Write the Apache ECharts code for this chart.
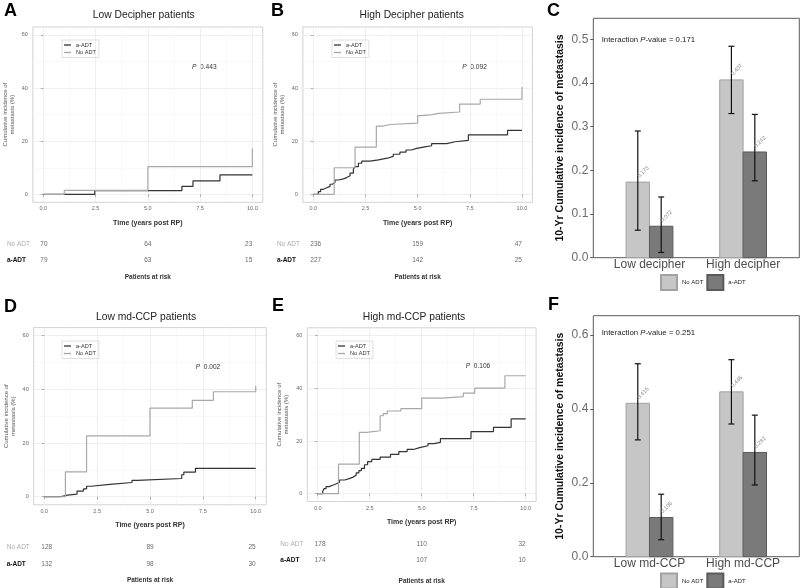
<!DOCTYPE html>
<html>
<head>
<meta charset="utf-8">
<script src="https://cdn.jsdelivr.net/npm/echarts@6/dist/echarts.min.js"></script>
<style>
  html, body { margin: 0; padding: 0; background: #fff; }
  #chart { width: 800px; height: 588px; }
</style>
</head>
<body>
<div id="chart"></div>
<script>
// cumulative incidence curves, [time (years), incidence (%)], value after each step
const lowDecNoAdt = [[0, 0], [1.0, 1.5], [5.0, 10.4], [10, 10.4], [10, 17.3]]
const lowDecAdt = [[0, 0], [2.46, 1.4], [6.63, 3.0], [7.16, 5.1], [8.45, 7.3], [10, 7.3]]
const highDecNoAdt = [[0, 0], [1.0, 10.0], [2.0, 17.8], [3.02, 25.7], [3.3, 26.3], [3.7, 26.8], [5.0, 29.6],
  [5.2, 30.0], [5.7, 30.5], [6.0, 31.0], [7.01, 34.0], [8.0, 35.8], [10, 35.8], [10, 40.4]]
const highDecAdt = [[0, 0], [0.24, 1.0], [0.35, 1.9], [0.48, 2.5], [0.64, 3.0], [0.8, 3.8], [0.91, 4.5],
  [1.04, 5.4], [1.2, 5.8], [1.44, 6.3], [1.6, 7.0], [1.76, 8.0], [1.92, 9.5], [2.0, 10.4], [2.16, 11.7],
  [2.32, 12.5], [2.72, 13.0], [3.12, 13.6], [3.55, 14.3], [3.83, 15.1], [4.15, 15.9], [4.44, 16.7],
  [4.7, 17.3], [4.95, 17.8], [5.27, 18.3], [5.67, 19.1], [6.39, 19.8], [6.8, 20.3], [7.43, 22.4],
  [9.31, 24.1], [10, 24.1]]
const lowCcpNoAdt = [[0, 0], [1.0, 9.3], [2.0, 22.7], [5.0, 33.0], [7.0, 35.9], [8.0, 39.1], [10, 39.1], [10, 41.3]]
const lowCcpAdt = [[0, 0], [0.75, 0.6], [1.1, 1.0], [1.55, 2.1], [1.85, 2.9], [2.0, 3.9], [2.2, 4.6],
  [3.1, 5.3], [4.15, 6.1], [4.4, 6.8], [6.5, 8.2], [6.6, 9.2], [7.15, 10.6], [10, 10.6]]
const highCcpNoAdt = [[0, 0], [1.0, 11.2], [2.0, 23.3], [2.35, 23.9], [3.0, 29.6], [3.15, 30.4], [3.35, 31.4],
  [4.0, 32.3], [5.0, 36.3], [6.0, 36.9], [7.0, 38.2], [7.55, 40.1], [9.0, 44.8], [10, 44.8]]
const highCcpAdt = [[0, 0], [0.24, 0.8], [0.3, 1.9], [0.4, 2.7], [0.55, 3.3], [0.75, 3.8], [0.9, 4.4],
  [1.05, 5.2], [1.3, 5.8], [1.55, 6.3], [1.7, 7.0], [1.85, 7.9], [1.98, 8.8], [2.1, 9.6], [2.25, 11.0],
  [2.4, 12.2], [2.6, 13.0], [3.0, 13.9], [3.5, 14.9], [3.9, 16.0], [4.3, 16.8], [4.6, 17.5], [4.9, 18.2],
  [5.3, 19.0], [5.6, 19.5], [5.9, 20.9], [7.37, 23.6], [8.45, 25.2], [9.3, 28.4], [10, 28.4]]

// patients at risk at 0, 5 and 10 years
const riskTimes = [0, 5, 10]
const riskLowDecNoAdt = [70, 64, 23]
const riskLowDecAdt = [79, 63, 15]
const riskHighDecNoAdt = [236, 159, 47]
const riskHighDecAdt = [227, 142, 25]
const riskLowCcpNoAdt = [128, 89, 25]
const riskLowCcpAdt = [132, 98, 30]
const riskHighCcpNoAdt = [178, 110, 32]
const riskHighCcpAdt = [174, 107, 10]

const kmTicksX = [0, 2.5, 5, 7.5, 10]
const kmMinorX = [1.25, 3.75, 6.25, 8.75]
const kmTicksY = [0, 20, 40, 60]
const kmMinorY = [10, 30, 50]

// 10-year cumulative incidence with confidence limits
const decipherGroups = ['Low decipher', 'High decipher']
const decNoAdt = [0.173, 0.407]
const decNoAdtLow = [0.063, 0.330]
const decNoAdtHigh = [0.290, 0.484]
const decAdt = [0.072, 0.242]
const decAdtLow = [0.012, 0.176]
const decAdtHigh = [0.139, 0.328]

const ccpGroups = ['Low md-CCP', 'High md-CCP']
const ccpNoAdt = [0.415, 0.446]
const ccpNoAdtLow = [0.316, 0.359]
const ccpNoAdtHigh = [0.522, 0.533]
const ccpAdt = [0.106, 0.282]
const ccpAdtLow = [0.046, 0.194]
const ccpAdtHigh = [0.169, 0.383]

const barTicksC = [0, 0.1, 0.2, 0.3, 0.4, 0.5]
const barTicksF = [0, 0.2, 0.4, 0.6]

const FONT = "'Liberation Sans', Arial, Helvetica, sans-serif"
const BLACK_LINE = '#333333'
const GREY_LINE = '#a8a8a8'

const grid = []
const xAxis = []
const yAxis = []
const series = []
const legend = []
const graphic = []

const stripKey = (n) => n.split('|')[1]

const addText = (x, y, text, style) => {
  graphic.push({
    type: 'text', x, y, silent: true,
    style: Object.assign({ text, fontFamily: FONT, fill: '#222', align: 'left', verticalAlign: 'middle' }, style),
  })
}

const kmPanel = (p) => {
  const gi = grid.length
  grid.push({ left: p.box.left, top: p.box.top, width: p.box.width, height: p.box.height,
    show: true, borderColor: '#d2d2d2', borderWidth: 1, backgroundColor: '#fff' })
  const xi = xAxis.length
  xAxis.push({
    type: 'value', gridIndex: gi, min: -0.5, max: 10.5,
    name: 'Time (years post RP)', nameLocation: 'middle', nameGap: p.xGap,
    nameTextStyle: { fontSize: 7, fontWeight: 'bold', color: '#333', fontFamily: FONT },
    axisLine: { show: false },
    axisTick: { show: true, length: 2.5, customValues: kmTicksX, lineStyle: { color: '#999', width: 0.8 } },
    axisLabel: { customValues: kmTicksX, formatter: (v) => v.toFixed(1), fontSize: 5.5, color: '#666', margin: 3.5 },
    splitLine: { show: true, lineStyle: { color: '#ebebeb', width: 0.8 } },
  })
  xAxis.push({
    type: 'value', gridIndex: gi, min: -0.5, max: 10.5, position: 'bottom',
    axisLine: { show: false },
    axisTick: { show: false, customValues: kmMinorX },
    axisLabel: { show: false, customValues: kmMinorX },
    splitLine: { show: true, lineStyle: { color: '#f5f5f5', width: 0.6 } },
  })
  const yi = yAxis.length
  yAxis.push({
    type: 'value', gridIndex: gi, min: -3, max: 63,
    name: 'Cumulative incidence of\nmetastasis (%)', nameLocation: 'middle', nameRotate: 90, nameGap: 17,
    nameTextStyle: { fontSize: 6, color: '#555', lineHeight: 7.2, fontFamily: FONT },
    axisLine: { show: false },
    axisTick: { show: true, length: 2.5, customValues: kmTicksY, lineStyle: { color: '#999', width: 0.8 } },
    axisLabel: { customValues: kmTicksY, fontSize: 5.5, color: '#666', margin: 5 },
    splitLine: { show: true, lineStyle: { color: '#ebebeb', width: 0.8 } },
  })
  yAxis.push({
    type: 'value', gridIndex: gi, min: -3, max: 63, position: 'left',
    axisLine: { show: false },
    axisTick: { show: false, customValues: kmMinorY },
    axisLabel: { show: false, customValues: kmMinorY },
    splitLine: { show: true, lineStyle: { color: '#f5f5f5', width: 0.6 } },
  })
  series.push({
    type: 'line', name: p.key + '|a-ADT', xAxisIndex: xi, yAxisIndex: yi, step: 'end', symbol: 'none',
    data: p.adt, lineStyle: { color: BLACK_LINE, width: 1.2 }, itemStyle: { color: BLACK_LINE }, silent: true,
  })
  series.push({
    type: 'line', name: p.key + '|No ADT', xAxisIndex: xi, yAxisIndex: yi, step: 'end', symbol: 'none',
    data: p.noAdt, lineStyle: { color: GREY_LINE, width: 1.2 }, itemStyle: { color: GREY_LINE }, silent: true,
  })
  legend.push({
    left: p.legendAt[0], top: p.legendAt[1], orient: 'vertical',
    data: [p.key + '|a-ADT', p.key + '|No ADT'], formatter: stripKey, selectedMode: false,
    icon: 'rect', itemWidth: 7, itemHeight: 1.3, itemGap: 1.5, padding: [2, 3, 2, 2],
    borderColor: '#d8d8d8', borderWidth: 0.8,
    textStyle: { fontSize: 5.6, color: '#333', fontFamily: FONT },
  })

  // patients at risk table
  const tg = grid.length
  grid.push({ left: p.box.left, top: p.table.top, width: p.box.width, height: p.table.height })
  const txi = xAxis.length
  xAxis.push({
    type: 'value', gridIndex: tg, min: -0.5, max: 10.5,
    name: 'Patients at risk', nameLocation: 'middle', nameGap: p.riskGap,
    nameTextStyle: { fontSize: 6.5, fontWeight: 'bold', color: '#333', fontFamily: FONT },
    axisLine: { show: false }, axisTick: { show: false }, axisLabel: { show: false }, splitLine: { show: false },
  })
  const tyi = yAxis.length
  yAxis.push({
    type: 'category', gridIndex: tg, data: ['a-ADT', 'No ADT'],
    axisLine: { show: false }, axisTick: { show: false }, splitLine: { show: false },
    axisLabel: {
      align: 'left', margin: p.rowMargin,
      formatter: (v) => (v === 'No ADT' ? '{g|No ADT}' : '{b|a-ADT}'),
      rich: {
        g: { color: '#adadad', fontSize: 6.5, fontFamily: FONT },
        b: { color: '#111', fontSize: 6.5, fontWeight: 'bold', fontFamily: FONT },
      },
    },
  })
  const aligns = ['left', 'center', 'right']
  const rows = []
  riskTimes.forEach((t, i) => {
    rows.push({ value: [t, 1, p.riskNoAdt[i]], label: { align: aligns[i], offset: [i === 0 ? -3 : 0, 0] } })
    rows.push({ value: [t, 0, p.riskAdt[i]], label: { align: aligns[i], offset: [i === 0 ? -3 : 0, 0] } })
  })
  series.push({
    type: 'scatter', xAxisIndex: txi, yAxisIndex: tyi, symbolSize: 1, silent: true,
    itemStyle: { color: 'rgba(0,0,0,0)' },
    label: { show: true, position: 'inside', formatter: (q) => q.value[2], fontSize: 6.5, color: '#444', fontFamily: FONT },
    data: rows,
  })

  addText(p.titleAt[0], p.titleAt[1], p.title, { fontSize: 10.3, align: 'center', fill: '#222' })
  addText(p.letterAt[0], p.letterAt[1], p.letter, { fontSize: 18, fontWeight: 'bold', fill: '#000' })
  addText(p.pAt[0], p.pAt[1], '{i|P}  ' + p.p, {
    fontSize: 6.6, fill: '#333', rich: { i: { fontStyle: 'italic', fontSize: 6.6, fill: '#333', fontFamily: FONT } },
  })
}

const barRender = (shift, fill, stroke) => (params, api) => {
  const x = api.value(0) + shift
  const v = api.value(1)
  const tl = api.coord([x - 0.125, v])
  const br = api.coord([x + 0.125, 0])
  const hi = api.coord([x, api.value(3)])
  const lo = api.coord([x, api.value(2)])
  const err = { stroke: '#111', lineWidth: 1.2 }
  return {
    type: 'group',
    children: [
      { type: 'rect', shape: { x: tl[0], y: tl[1], width: br[0] - tl[0], height: br[1] - tl[1] },
        style: { fill, stroke, lineWidth: 1 } },
      { type: 'line', shape: { x1: hi[0], y1: hi[1], x2: lo[0], y2: lo[1] }, style: err },
      { type: 'line', shape: { x1: hi[0] - 3, y1: hi[1], x2: hi[0] + 3, y2: hi[1] }, style: err },
      { type: 'line', shape: { x1: lo[0] - 3, y1: lo[1], x2: lo[0] + 3, y2: lo[1] }, style: err },
      { type: 'text', x: hi[0] + 2.5, y: tl[1] - 3, rotation: Math.PI / 4,
        style: { text: v.toFixed(3), fontSize: 5.6, fill: '#8a8a8a', align: 'left', verticalAlign: 'bottom', fontFamily: FONT } },
    ],
  }
}

const NO_ADT_FILL = '#c6c6c6'
const NO_ADT_EDGE = '#a2a2a2'
const ADT_FILL = '#7a7a7a'
const ADT_EDGE = '#5a5a5a'

const barPanel = (p) => {
  const gi = grid.length
  grid.push({ left: 593.3, top: p.top, width: 206, height: p.height, show: true, borderColor: '#5a5a5a', borderWidth: 1 })
  const xi = xAxis.length
  xAxis.push({
    type: 'value', gridIndex: gi, min: 0.4, max: 2.6,
    axisLine: { show: false },
    axisTick: { show: false, customValues: [1, 2] },
    axisLabel: { customValues: [1, 2], formatter: (v) => p.groups[Math.round(v) - 1], fontSize: 12, color: '#4d4d4d', margin: 1 },
    splitLine: { show: false },
  })
  const yi = yAxis.length
  yAxis.push({
    type: 'value', gridIndex: gi, min: 0, max: p.max,
    name: '10-Yr Cumulative incidence of metastasis', nameLocation: 'middle', nameRotate: 90, nameGap: 28,
    nameTextStyle: { fontSize: 10.5, fontWeight: 'bold', color: '#111', fontFamily: FONT },
    axisLine: { show: false },
    axisTick: { show: true, length: 3, customValues: p.ticks, lineStyle: { color: '#555' } },
    axisLabel: { customValues: p.ticks, formatter: (v) => v.toFixed(1), fontSize: 12, color: '#6b6b6b', margin: 5 },
    splitLine: { show: false },
  })
  series.push({
    type: 'custom', name: p.key + '|No ADT', xAxisIndex: xi, yAxisIndex: yi, silent: true, clip: false,
    itemStyle: { color: NO_ADT_FILL, borderColor: NO_ADT_EDGE, borderWidth: 1 },
    renderItem: barRender(-0.125, NO_ADT_FILL, NO_ADT_EDGE),
    data: p.groups.map((g, i) => [i + 1, p.noAdt[i], p.noAdtLow[i], p.noAdtHigh[i]]),
  })
  series.push({
    type: 'custom', name: p.key + '|a-ADT', xAxisIndex: xi, yAxisIndex: yi, silent: true, clip: false,
    itemStyle: { color: ADT_FILL, borderColor: ADT_EDGE, borderWidth: 1 },
    renderItem: barRender(0.125, ADT_FILL, ADT_EDGE),
    data: p.groups.map((g, i) => [i + 1, p.adt[i], p.adtLow[i], p.adtHigh[i]]),
  })
  legend.push({
    left: 660, top: p.legendTop, orient: 'horizontal',
    data: [p.key + '|No ADT', p.key + '|a-ADT'], formatter: stripKey, selectedMode: false,
    icon: 'rect', itemWidth: 16, itemHeight: 15, itemGap: 3, padding: 0,
    textStyle: { fontSize: 6, color: '#222', fontFamily: FONT },
  })
  addText(601.7, p.interAt, '{t|Interaction }{i|P}{t|-value = ' + p.inter + '}', {
    fontSize: 7.8, fill: '#222',
    rich: {
      t: { fontSize: 7.8, fill: '#222', fontFamily: FONT },
      i: { fontSize: 7.8, fill: '#222', fontStyle: 'italic', fontFamily: FONT },
    },
  })
  addText(p.letterAt[0], p.letterAt[1], p.letter, { fontSize: 18, fontWeight: 'bold', fill: '#000' })
}

kmPanel({
  key: 'A', letter: 'A', title: 'Low Decipher patients', p: '0.443',
  adt: lowDecAdt, noAdt: lowDecNoAdt, riskAdt: riskLowDecAdt, riskNoAdt: riskLowDecNoAdt,
  box: { left: 32.9, top: 27, width: 229.9, height: 175.3 }, table: { top: 235.6, height: 33.4 },
  xGap: 17, riskGap: 4.5, rowMargin: 26,
  legendAt: [62, 40], pAt: [192, 66.7], titleAt: [143.7, 15.5], letterAt: [4, 11],
})
kmPanel({
  key: 'B', letter: 'B', title: 'High Decipher patients', p: '0.092',
  adt: highDecAdt, noAdt: highDecNoAdt, riskAdt: riskHighDecAdt, riskNoAdt: riskHighDecNoAdt,
  box: { left: 302.9, top: 27, width: 229.5, height: 175.3 }, table: { top: 235.6, height: 33.4 },
  xGap: 17, riskGap: 4.5, rowMargin: 26,
  legendAt: [332, 40], pAt: [462.3, 66.7], titleAt: [411.7, 15.5], letterAt: [271, 11],
})
kmPanel({
  key: 'D', letter: 'D', title: 'Low md-CCP patients', p: '0.002',
  adt: lowCcpAdt, noAdt: lowCcpNoAdt, riskAdt: riskLowCcpAdt, riskNoAdt: riskLowCcpNoAdt,
  box: { left: 33.7, top: 327.6, width: 232.6, height: 177.2 }, table: { top: 539.4, height: 33.2 },
  xGap: 16.5, riskGap: 4.5, rowMargin: 27,
  legendAt: [62, 341], pAt: [195.7, 366.7], titleAt: [146, 317.5], letterAt: [4, 307],
})
kmPanel({
  key: 'E', letter: 'E', title: 'High md-CCP patients', p: '0.106',
  adt: highCcpAdt, noAdt: highCcpNoAdt, riskAdt: riskHighCcpAdt, riskNoAdt: riskHighCcpNoAdt,
  box: { left: 307.3, top: 327.8, width: 228.8, height: 173.8 }, table: { top: 535.6, height: 33.4 },
  xGap: 17, riskGap: 8.5, rowMargin: 27,
  legendAt: [336, 341], pAt: [465.7, 366], titleAt: [414, 317], letterAt: [272, 306.5],
})
barPanel({
  key: 'C', letter: 'C', groups: decipherGroups, inter: '0.171',
  noAdt: decNoAdt, noAdtLow: decNoAdtLow, noAdtHigh: decNoAdtHigh,
  adt: decAdt, adtLow: decAdtLow, adtHigh: decAdtHigh,
  top: 18.3, height: 239.4, max: 0.548, ticks: barTicksC, legendTop: 274, interAt: 40, letterAt: [547, 11],
})
barPanel({
  key: 'F', letter: 'F', groups: ccpGroups, inter: '0.251',
  noAdt: ccpNoAdt, noAdtLow: ccpNoAdtLow, noAdtHigh: ccpNoAdtHigh,
  adt: ccpAdt, adtLow: ccpAdtLow, adtHigh: ccpAdtHigh,
  top: 315.7, height: 241, max: 0.652, ticks: barTicksF, legendTop: 572.5, interAt: 333.3, letterAt: [548, 305.5],
})

const chart = echarts.init(document.getElementById('chart'))
chart.setOption({
  animation: false,
  backgroundColor: '#fff',
  textStyle: { fontFamily: FONT },
  grid, xAxis, yAxis, series, legend, graphic,
})
</script>
</body>
</html>
